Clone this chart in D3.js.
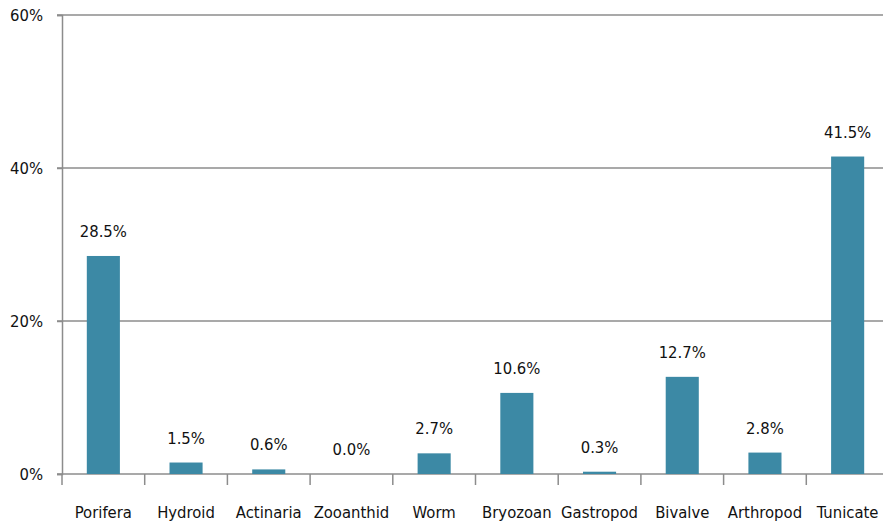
<!DOCTYPE html>
<html>
<head>
<meta charset="utf-8">
<script src="https://cdn.jsdelivr.net/npm/d3@7"></script>
<style>
  body { margin: 0; background: #fff; }
  text { font-family: "Liberation Sans Narrow", "DejaVu Sans Condensed", "Roboto", sans-serif; fill: #111; }
</style>
</head>
<body>
<div class="chart"></div>
<script>
// Data
let categories = ["Porifera", "Hydroid", "Actinaria", "Zooanthid", "Worm", "Bryozoan", "Gastropod", "Bivalve", "Arthropod", "Tunicate"];
let values = [28.5, 1.5, 0.6, 0.0, 2.7, 10.6, 0.3, 12.7, 2.8, 41.5];
let yTicks = [0, 20, 40, 60];

let svgWidth = 883;
let svgHeight = 525;

let margin = { top: 15, right: -6, bottom: 51, left: 62 };
let width = svgWidth - margin.left - margin.right;
let height = svgHeight - margin.top - margin.bottom;

let fontSize = 16.5;

let svg = d3.select(".chart")
    .append("svg")
    .attr("width", svgWidth)
    .attr("height", svgHeight);

let chartGroup = svg.append("g")
    .attr("transform", `translate(${margin.left}, ${margin.top})`);

let xScale = d3.scaleBand()
    .domain(categories)
    .range([0, width])
    .paddingInner(0.6)
    .paddingOuter(0.3);

let yScale = d3.scaleLinear()
    .domain([0, 60])
    .range([height, 0]);

// Gridlines
chartGroup.selectAll(".grid")
    .data(yTicks.filter(d => d > 0))
    .enter()
    .append("line")
    .attr("x1", -5)
    .attr("x2", width)
    .attr("y1", d => yScale(d))
    .attr("y2", d => yScale(d))
    .attr("stroke", "#8c8c8c")
    .attr("stroke-width", 1.5);

// Y axis
let leftAxis = d3.axisLeft(yScale)
    .tickValues(yTicks)
    .tickSize(5)
    .tickPadding(14)
    .tickFormat(d => d + "%");

let yAxis = chartGroup.append("g").call(leftAxis);
yAxis.select(".domain").attr("stroke", "#8c8c8c").attr("stroke-width", 1.5);
yAxis.selectAll(".tick line").attr("stroke", "#8c8c8c").attr("stroke-width", 1.5);
yAxis.selectAll(".tick text").attr("font-size", fontSize).style("fill", "#111")
    .attr("font-family", "'Liberation Sans Narrow', 'DejaVu Sans Condensed', sans-serif");

// X axis with ticks between categories
let bottomAxis = chartGroup.append("g")
    .attr("transform", `translate(0, ${height})`);

bottomAxis.append("line")
    .attr("x1", -5)
    .attr("x2", width)
    .attr("stroke", "#8c8c8c")
    .attr("stroke-width", 1.5);

let boundaries = d3.range(categories.length + 1).map(i => i * (width / categories.length));
bottomAxis.selectAll(".xtick")
    .data(boundaries)
    .enter()
    .append("line")
    .attr("x1", d => d)
    .attr("x2", d => d)
    .attr("y1", 0)
    .attr("y2", 11)
    .attr("stroke", "#8c8c8c")
    .attr("stroke-width", 1.5);

bottomAxis.selectAll(".xlabel")
    .data(categories)
    .enter()
    .append("text")
    .attr("x", d => xScale(d) + xScale.bandwidth() / 2)
    .attr("y", 44)
    .attr("text-anchor", "middle")
    .attr("font-size", fontSize)
    .text(d => d);

// Bars
chartGroup.selectAll("rect")
    .data(values)
    .enter()
    .append("rect")
    .attr("x", (d, i) => xScale(categories[i]))
    .attr("y", d => yScale(d))
    .attr("width", xScale.bandwidth())
    .attr("height", d => height - yScale(d))
    .attr("fill", "#3c89a5");

// Value labels
chartGroup.selectAll(".value")
    .data(values)
    .enter()
    .append("text")
    .attr("x", (d, i) => xScale(categories[i]) + xScale.bandwidth() / 2)
    .attr("y", d => yScale(d) - 19)
    .attr("text-anchor", "middle")
    .attr("font-size", fontSize)
    .text(d => d.toFixed(1) + "%");
</script>
</body>
</html>
